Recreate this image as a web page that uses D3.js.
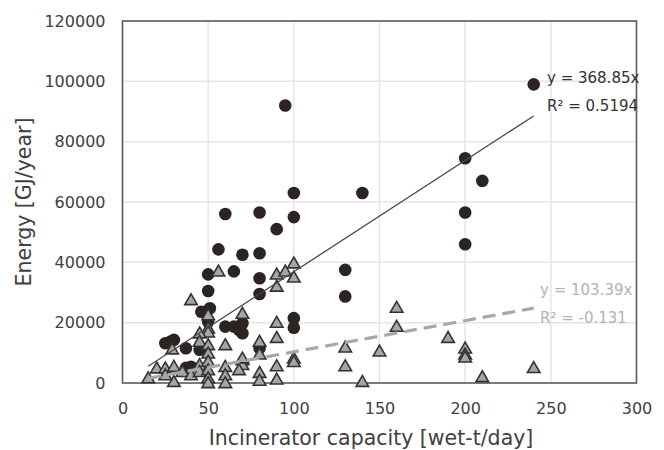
<!DOCTYPE html>
<html><head><meta charset="utf-8">
<script src="https://cdn.jsdelivr.net/npm/d3@7/dist/d3.min.js"></script>
<style>body{margin:0;background:#fff}svg{display:block}</style>
</head><body>
<svg id="c" width="664" height="450"></svg>
<script>
const xTicks = [0, 50, 100, 150, 200, 250, 300];
const yTicks = [0, 20000, 40000, 60000, 80000, 100000, 120000];
const xTitle = "Incinerator capacity [wet-t/day]";
const yTitle = "Energy [GJ/year]";

// series 1: circles (capacity, energy)
const circleX = [240,95,100,140,200,210,200,200,60,80,100,90,56,70,80,65,50,130,80,80,130,50,46,51,50,60,65,68,70,70,100,100,28,25,30,37,37,40,80,45];
const circleY = [99000,92000,63000,63000,74500,67000,56500,46000,56000,56500,55000,51000,44300,42500,43000,37000,36000,37500,34700,29500,28700,30500,23600,24800,20300,18700,18700,17600,19800,16500,21500,18300,13700,13200,14300,11500,5000,5400,11500,11000];

// series 2: triangles (capacity, energy)
const triX = [40,56,90,95,100,100,90,70,50,50,50,45,45,50,50,90,90,80,80,80,70,70,90,90,100,100,130,130,140,150,160,160,190,200,200,200,210,240,20,25,30,15,30,25,35,40,45,45,50,50,50,50,60,60,60,60,68,70,29,80];
const triY = [27500,37000,36000,37000,39700,35000,32000,23000,22500,18100,16800,16500,13700,12600,9800,20000,15000,13700,3400,800,7600,6000,5600,1200,8200,7000,11800,5600,400,10500,25000,18700,15000,11500,9500,8500,2000,5000,4900,4900,5400,1600,400,2600,3700,2600,6000,3700,7100,4300,1600,0,12600,5400,2600,0,4300,8200,11200,9500];

const fit1 = {slope: 368.85, xmin: 15, xmax: 240, eq: "y = 368.85x", r2: "R² = 0.5194"};
const fit2 = {slope: 103.39, xmin: 15, xmax: 240, eq: "y = 103.39x", r2: "R² = -0.131"};

const FONT = "'DejaVu Sans', Verdana, sans-serif";
const svg = d3.select("#c");
const L = 122.5, R = 636.5, T = 21, B = 383;
const x = d3.scaleLinear().domain([0, 300]).range([L, R]);
const y = d3.scaleLinear().domain([0, 120000]).range([B, T]);

// gridlines
svg.append("g").selectAll("line").data(xTicks.slice(1, -1)).join("line")
  .attr("x1", d => x(d)).attr("x2", d => x(d)).attr("y1", T).attr("y2", B)
  .attr("stroke", "#e6e6e6").attr("stroke-width", 1.5);
svg.append("g").selectAll("line").data(yTicks.slice(1, -1)).join("line")
  .attr("y1", d => y(d)).attr("y2", d => y(d)).attr("x1", L).attr("x2", R)
  .attr("stroke", "#e6e6e6").attr("stroke-width", 1.5);

// axes (labels only)
const xAxis = d3.axisBottom(x).tickValues(xTicks).tickSize(0).tickPadding(20);
const gx = svg.append("g").attr("transform", `translate(0,${B})`).call(xAxis);
const yAxis = d3.axisLeft(y).tickValues(yTicks).tickSize(0).tickPadding(17).tickFormat(d3.format("d"));
const gy = svg.append("g").attr("transform", `translate(${L},0)`).call(yAxis);
[gx, gy].forEach(g => {
  g.attr("font-family", FONT).attr("font-size", 16);
  g.select(".domain").remove();
  g.selectAll("text").attr("fill", "#404040");
});

// frame
svg.append("rect").attr("x", L).attr("y", T).attr("width", R - L).attr("height", B - T)
  .attr("fill", "none").attr("stroke", "#5a5a5a").attr("stroke-width", 1.6);

// circles
const circles = circleX.map((d, i) => [d, circleY[i]]);
svg.append("g").selectAll("circle").data(circles).join("circle")
  .attr("cx", d => x(d[0])).attr("cy", d => y(d[1])).attr("r", 6.3)
  .attr("fill", "#2b2422");

// triangles
const tris = triX.map((d, i) => [d, triY[i]]);
const tri = d3.symbol().type(d3.symbolTriangle).size(68);
svg.append("g").selectAll("path").data(tris).join("path")
  .attr("d", tri).attr("transform", d => `translate(${x(d[0])},${y(d[1]) + 1})`)
  .attr("fill", "#a6a6a6").attr("stroke", "#333").attr("stroke-width", 1.6);

// trendlines
svg.append("line")
  .attr("x1", x(fit1.xmin)).attr("y1", y(fit1.slope * fit1.xmin))
  .attr("x2", x(fit1.xmax)).attr("y2", y(fit1.slope * fit1.xmax))
  .attr("stroke", "#4a4a4a").attr("stroke-width", 1.3);
svg.append("line")
  .attr("x1", x(fit2.xmin)).attr("y1", y(fit2.slope * fit2.xmin))
  .attr("x2", x(fit2.xmax)).attr("y2", y(fit2.slope * fit2.xmax))
  .attr("stroke", "#a8a8a8").attr("stroke-width", 3.2).attr("stroke-dasharray", "13,7");

// trendline labels
const lab = (t, xx, yy, c) => svg.append("text").attr("x", xx).attr("y", yy).text(t)
  .attr("font-family", FONT).attr("font-size", 15).attr("fill", c);
lab(fit1.eq, 547, 83, "#333");
lab(fit1.r2, 547, 111, "#333");
lab(fit2.eq, 540, 295, "#b3b3b3");
lab(fit2.r2, 540, 323, "#b3b3b3");

// axis titles
svg.append("text").attr("x", 371).attr("y", 445).attr("text-anchor", "middle")
  .attr("font-family", FONT).attr("font-size", 20.5).attr("fill", "#404040").text(xTitle);
svg.append("text").attr("transform", `translate(31,${(T + B) / 2}) rotate(-90)`)
  .attr("text-anchor", "middle").attr("font-family", FONT).attr("font-size", 20.5)
  .attr("fill", "#404040").text(yTitle);
</script>
</body></html>
